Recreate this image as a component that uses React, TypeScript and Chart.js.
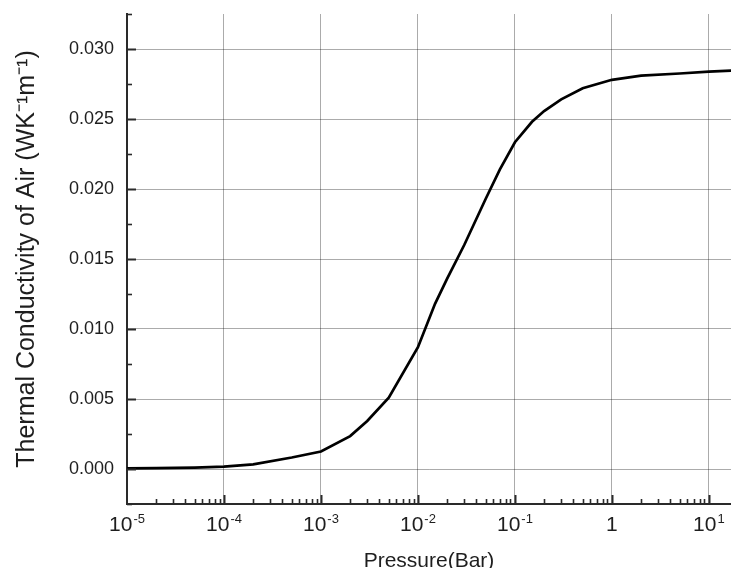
import React, { useEffect, useRef } from "react";
import { Chart, registerables } from "chart.js";

Chart.register(...registerables);

// Data
const pressureBar = [1e-5, 2e-5, 5e-5, 1e-4, 2e-4, 5e-4, 1e-3, 2e-3, 3e-3, 5e-3, 1e-2, 1.5e-2, 2e-2, 3e-2, 5e-2, 7e-2, 0.1, 0.15, 0.2, 0.3, 0.5, 1, 2, 5, 10, 17];
const conductivity = [0.00005, 0.00006, 0.0001, 0.00017, 0.00033, 0.00082, 0.00125, 0.00235, 0.00343, 0.0051, 0.0087, 0.0118, 0.0136, 0.016, 0.0193, 0.0214, 0.02334, 0.0248, 0.02557, 0.0264, 0.0272, 0.0278, 0.0281, 0.02825, 0.02838, 0.02845];

const xDecades = [1e-5, 1e-4, 1e-3, 1e-2, 1e-1, 1, 10];
const xTickBase = ["10", "10", "10", "10", "10", "1", "10"];
const xTickExp = ["-5", "-4", "-3", "-2", "-1", "", "1"];
const yMajorTicks = [0, 0.005, 0.01, 0.015, 0.02, 0.025, 0.03];
const yMinorTicks = [-0.0025, 0.0025, 0.0075, 0.0125, 0.0175, 0.0225, 0.0275, 0.0325];

const X_MIN = 1e-5;
const X_MAX = 16.9;
const Y_MIN = -0.0025;
const Y_MAX = 0.0325;

const FONT = "'Liberation Sans', Arial, Helvetica, sans-serif";
const AXIS_COLOR = "#2a2a2a";
const TEXT_COLOR = "#1e1e1e";

const innerTicks = {
  id: "innerTicks",
  afterDraw(chart: any) {
    const ctx = chart.ctx;
    const x = chart.scales.x;
    const y = chart.scales.y;
    const area = chart.chartArea;
    ctx.save();
    ctx.strokeStyle = AXIS_COLOR;
    for (const d of xDecades) {
      for (let m = 1; m <= 9; m++) {
        const v = d * m;
        if (v <= X_MIN || v > X_MAX) continue;
        const px = Math.round(x.getPixelForValue(v)) + 0.5;
        const len = m === 1 ? 9 : 5;
        ctx.lineWidth = m === 1 ? 2 : 1.6;
        ctx.beginPath();
        ctx.moveTo(px, area.bottom);
        ctx.lineTo(px, area.bottom - len);
        ctx.stroke();
      }
    }
    for (const v of yMajorTicks) {
      const py = Math.round(y.getPixelForValue(v)) + 0.5;
      ctx.lineWidth = 2;
      ctx.beginPath();
      ctx.moveTo(area.left, py);
      ctx.lineTo(area.left + 9, py);
      ctx.stroke();
    }
    for (const v of yMinorTicks) {
      const py = Math.round(y.getPixelForValue(v)) + 0.5;
      ctx.lineWidth = 1.6;
      ctx.beginPath();
      ctx.moveTo(area.left, py);
      ctx.lineTo(area.left + 5, py);
      ctx.stroke();
    }

    // x tick labels with true superscripts
    ctx.fillStyle = TEXT_COLOR;
    ctx.textBaseline = "alphabetic";
    ctx.textAlign = "left";
    const baseFont = `21px ${FONT}`;
    const expFont = `13px ${FONT}`;
    const baseY = area.bottom + 27;
    const expY = area.bottom + 19;
    xDecades.forEach((v, i) => {
      const px = x.getPixelForValue(v);
      ctx.font = baseFont;
      const wb = ctx.measureText(xTickBase[i]).width;
      ctx.font = expFont;
      const we = xTickExp[i] ? ctx.measureText(xTickExp[i]).width + 1 : 0;
      const start = px - (wb + we) / 2;
      ctx.font = baseFont;
      ctx.fillText(xTickBase[i], start, baseY);
      if (xTickExp[i]) {
        ctx.font = expFont;
        ctx.fillText(xTickExp[i], start + wb + 1, expY);
      }
    });
    ctx.restore();
  },
};

export default function App() {
  const ref = useRef<HTMLCanvasElement | null>(null);

  useEffect(() => {
    if (!ref.current) return;
    const chart = new Chart(ref.current, {
      type: "line",
      data: {
        datasets: [
          {
            label: "Thermal conductivity",
            data: pressureBar.map((p, i) => ({ x: p, y: conductivity[i] })),
            borderColor: "#000000",
            borderWidth: 2.7,
            pointRadius: 0,
            tension: 0,
            fill: false,
          },
        ],
      },
      options: {
        animation: false,
        responsive: false,
        maintainAspectRatio: false,
        layout: { padding: { left: 0, top: 14, right: 0, bottom: 0 } },
        plugins: {
          legend: { display: false },
          tooltip: { enabled: false },
        },
        scales: {
          x: {
            type: "logarithmic",
            min: X_MIN,
            max: X_MAX,
            afterBuildTicks: (scale: any) => {
              scale.ticks = xDecades.map((v) => ({ value: v }));
            },
            afterFit: (scale: any) => {
              scale.height = 76;
              scale.paddingLeft = 0;
              scale.paddingRight = 0;
            },
            grid: {
              display: true,
              color: "rgba(0,0,0,0.33)",
              lineWidth: 1,
              drawTicks: false,
            },
            border: { display: true, color: AXIS_COLOR, width: 2 },
            ticks: { display: false },
            title: {
              display: true,
              text: "Pressure(Bar)",
              color: TEXT_COLOR,
              font: { family: FONT, size: 21 },
              padding: { top: 0, bottom: 6 },
            },
          },
          y: {
            type: "linear",
            min: Y_MIN,
            max: Y_MAX,
            afterBuildTicks: (scale: any) => {
              scale.ticks = yMajorTicks.map((v) => ({ value: v }));
            },
            afterFit: (scale: any) => {
              scale.width = 127;
              scale.paddingTop = 0;
              scale.paddingBottom = 0;
            },
            grid: {
              display: true,
              color: "rgba(0,0,0,0.33)",
              lineWidth: 1,
              drawTicks: false,
            },
            border: { display: true, color: AXIS_COLOR, width: 2 },
            ticks: {
              padding: 13,
              color: TEXT_COLOR,
              font: { family: FONT, size: 18 },
              callback: (v: any) => Number(v).toFixed(3),
            },
            title: {
              display: true,
              text: "Thermal Conductivity of Air (WK\u207B\u00B9m\u207B\u00B9)",
              color: TEXT_COLOR,
              font: { family: FONT, size: 25 },
              padding: { top: 12, bottom: 0 },
            },
          },
        },
      },
      plugins: [innerTicks],
    });
    return () => chart.destroy();
  }, []);

  return (
    <div
      style={{
        position: "fixed",
        left: 0,
        top: 0,
        width: 731,
        height: 568,
        overflow: "hidden",
        background: "#ffffff",
      }}
    >
      <canvas ref={ref} width={731} height={580} style={{ display: "block" }} />
    </div>
  );
}
